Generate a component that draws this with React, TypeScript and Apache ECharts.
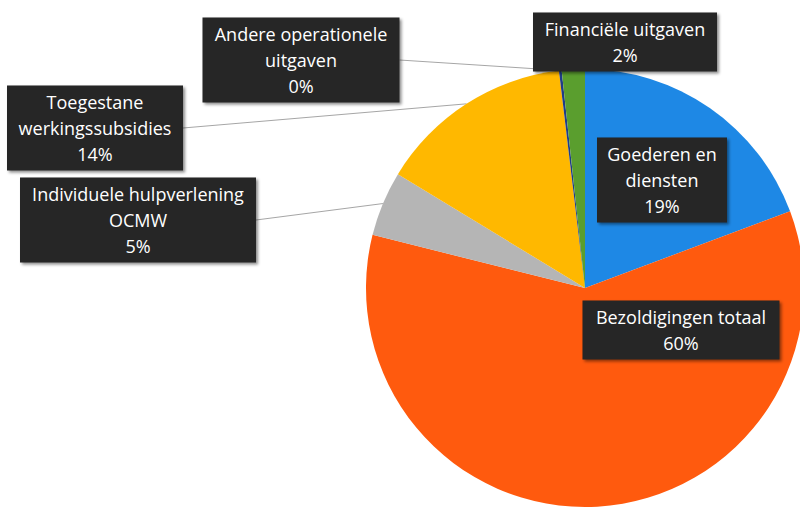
import React, { useEffect, useRef } from "react";
import * as echarts from "echarts";

// Categories (label text as it appears in the chart, line breaks included)
const categories = [
  "Goederen en\ndiensten",
  "Bezoldigingen totaal",
  "Individuele hulpverlening\nOCMW",
  "Toegestane\nwerkingssubsidies",
  "Andere operationele\nuitgaven",
  "Financiële uitgaven",
];
// Shares in percent (labels round to 19/60/5/14/0/2)
const values = [19.3, 59.6, 4.8, 14.4, 0.2, 1.7];
const colors = ["#1E88E5", "#FF5A0E", "#B5B5B5", "#FFB800", "#1F3C88", "#5A9E2E"];

// Label box layout (centre x, centre y, inner width) and whether a leader line is drawn
const labelBoxes = [
  { cx: 662, cy: 180, w: 118, line: false },
  { cx: 681, cy: 330, w: 185, line: false },
  { cx: 138, cy: 220, w: 224, line: true },
  { cx: 95, cy: 128, w: 164, line: true },
  { cx: 301, cy: 60, w: 185, line: true },
  { cx: 625, cy: 42, w: 172, line: false },
];

export default function App() {
  const ref = useRef<HTMLDivElement>(null);
  useEffect(() => {
    if (!ref.current) return;
    const chart = echarts.init(ref.current, null, { renderer: "svg" });
    chart.setOption({
      animation: false,
      backgroundColor: "#ffffff",
      series: [
        {
          type: "pie",
          center: [585, 288],
          radius: 219,
          startAngle: 90,
          clockwise: true,
          avoidLabelOverlap: false,
          percentPrecision: 0,
          itemStyle: { borderWidth: 0 },
          emphasis: { disabled: true },
          label: {
            show: true,
            position: "outside",
            formatter: "{b}\n{d}%",
            color: "#ffffff",
            fontFamily: "'Open Sans', sans-serif",
            fontSize: 18,
            lineHeight: 26,
            align: "center",
            backgroundColor: "#262626",
            padding: [4, 6, 3, 6],
            shadowColor: "rgba(0,0,0,0.45)",
            shadowBlur: 3,
            shadowOffsetX: 2,
            shadowOffsetY: 2,
          },
          labelLine: {
            show: true,
            length: 10,
            length2: 0,
            smooth: false,
            lineStyle: { color: "#A6A6A6", width: 1 },
          },
          labelLayout: (params: any) => {
            const b = labelBoxes[params.dataIndex];
            return { x: b.cx, y: b.cy, align: "center", verticalAlign: "middle" };
          },
          data: categories.map((name, i) => ({
            name,
            value: values[i],
            itemStyle: { color: colors[i] },
            label: { width: labelBoxes[i].w },
            labelLine: { show: labelBoxes[i].line },
          })),
        },
      ],
    });
    return () => chart.dispose();
  }, []);
  return (
    <div
      ref={ref}
      style={{ position: "absolute", left: 0, top: 0, width: 800, height: 508 }}
    />
  );
}
